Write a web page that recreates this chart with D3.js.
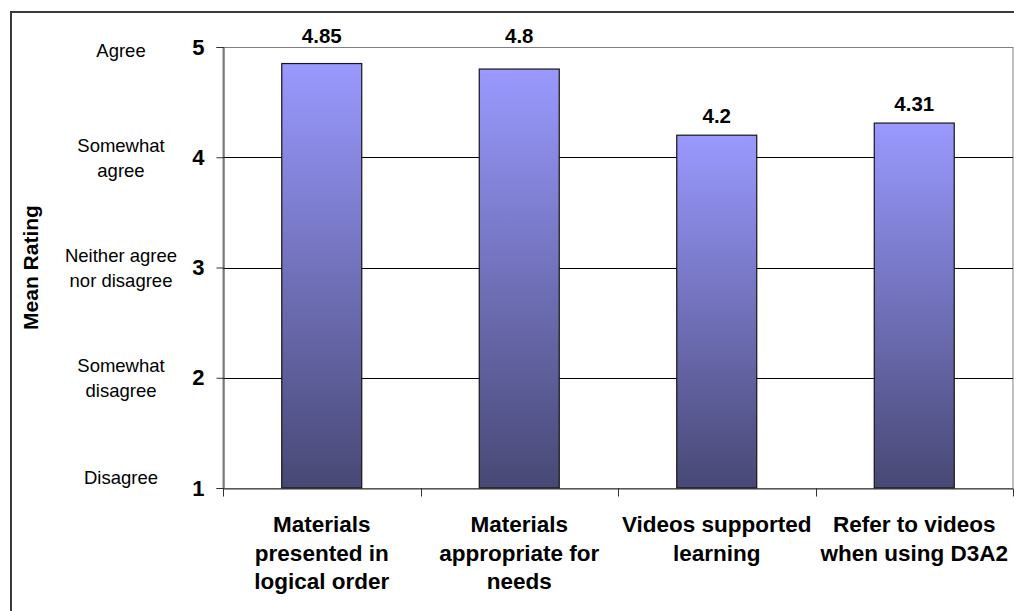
<!DOCTYPE html>
<html><head><meta charset="utf-8">
<script src="https://cdn.jsdelivr.net/npm/d3@7"></script>
<style>
body{margin:0;background:#fff}
svg{display:block;font-family:Arial,"Liberation Sans",sans-serif}
</style>
</head><body>
<svg id="c" width="1014" height="611"></svg>
<script>
const categories = ["Materials\npresented in\nlogical order", "Materials\nappropriate for\nneeds", "Videos supported\nlearning", "Refer to videos\nwhen using D3A2"];
const meanRatings = [4.85, 4.8, 4.2, 4.31];
const yTicks = [1, 2, 3, 4, 5];
const yTickNames = ["Disagree", "Somewhat\ndisagree", "Neither agree\nnor disagree", "Somewhat\nagree", "Agree"];
const yTitle = "Mean Rating";

const svg = d3.select("#c");
svg.append("rect").attr("width", 1014).attr("height", 611).attr("fill", "#fff");

const plot = {left: 223, right: 1013, top: 47, bottom: 488};
const x = d3.scaleBand().domain(categories).range([plot.left, plot.right]).padding(0);
const y = d3.scaleLinear().domain([1, 5]).range([plot.bottom, plot.top]);
const barW = x.bandwidth() * 0.405;

const defs = svg.append("defs");
const grad = defs.append("linearGradient").attr("id", "barGrad")
  .attr("x1", 0).attr("y1", 0).attr("x2", 0).attr("y2", 1);
grad.append("stop").attr("offset", "0%").attr("stop-color", "#9999FF");
grad.append("stop").attr("offset", "100%").attr("stop-color", "#484875");

// outer chart border
svg.append("rect").attr("x", 11).attr("y", 12).attr("width", 1040).attr("height", 700)
  .attr("fill", "none").attr("stroke", "#3a3a3a").attr("stroke-width", 2);

// plot area border
svg.append("rect").attr("x", plot.left).attr("y", plot.top + 0.5)
  .attr("width", plot.right - plot.left).attr("height", plot.bottom - plot.top)
  .attr("fill", "none").attr("stroke", "#808080").attr("stroke-width", 1);

// gridlines
svg.append("g").selectAll("line").data(yTicks.filter(t => t > 1 && t < 5)).join("line")
  .attr("x1", plot.left).attr("x2", plot.right)
  .attr("y1", d => Math.round(y(d)) + 0.5).attr("y2", d => Math.round(y(d)) + 0.5)
  .attr("stroke", "#000").attr("stroke-width", 1);

// bars
svg.append("g").selectAll("rect").data(meanRatings).join("rect")
  .attr("x", (d, i) => x(categories[i]) + x.bandwidth() / 2 - barW / 2)
  .attr("y", d => y(d))
  .attr("width", barW)
  .attr("height", d => y(1) - y(d))
  .attr("fill", "url(#barGrad)")
  .attr("stroke", "#151515").attr("stroke-width", 1.2);

// value labels
svg.append("g").selectAll("text").data(meanRatings).join("text")
  .attr("x", (d, i) => x(categories[i]) + x.bandwidth() / 2)
  .attr("y", d => { let ly = y(d) - 12; if (ly - 16 < plot.top) ly = plot.top - 4.5; return ly; })
  .attr("text-anchor", "middle").attr("font-weight", "bold").attr("font-size", 20.5)
  .attr("fill", "#000")
  .text(d => d3.format("")(d));

// y axis
const yAxis = svg.append("g").attr("transform", `translate(${plot.left + 0.5},0)`)
  .call(d3.axisLeft(y).tickValues(yTicks).tickFormat(d3.format("d")).tickSize(7).tickPadding(12));
yAxis.select(".domain").attr("stroke", "#333");
yAxis.selectAll(".tick line").attr("stroke", "#333");
yAxis.selectAll(".tick text").attr("font-size", 22).attr("font-weight", "bold")
  .attr("fill", "#000").attr("font-family", "Arial, 'Liberation Sans', sans-serif");

// x axis
const xAxis = svg.append("g").attr("transform", `translate(0,${plot.bottom + 0.5})`)
  .call(d3.axisBottom(x).tickSizeInner(0).tickSizeOuter(8).tickFormat(""));
xAxis.select(".domain").attr("stroke", "#333");
xAxis.selectAll(".tick").remove();
svg.append("g").selectAll("line").data(categories.slice(1)).join("line")
  .attr("x1", d => Math.round(x(d)) + 0.5).attr("x2", d => Math.round(x(d)) + 0.5)
  .attr("y1", plot.bottom).attr("y2", plot.bottom + 8.5)
  .attr("stroke", "#333");

// category labels
const catG = svg.append("g").selectAll("text").data(categories).join("text")
  .attr("text-anchor", "middle").attr("font-weight", "bold").attr("font-size", 22.5).attr("fill", "#000");
catG.each(function(d) {
  const cx = x(d) + x.bandwidth() / 2;
  d3.select(this).selectAll("tspan").data(d.split("\n")).join("tspan")
    .attr("x", cx).attr("y", (l, j) => 532 + j * 28.5).text(l => l);
});

// y tick names
const nameG = svg.append("g").selectAll("text").data(yTicks).join("text")
  .attr("text-anchor", "middle").attr("font-size", 18.5).attr("fill", "#000");
nameG.each(function(t, i) {
  const lines = yTickNames[i].split("\n");
  const yc = y(t);
  let base;
  if (lines.length === 1) base = Math.min(Math.max(yc + 6, plot.top + 10), plot.bottom - 4);
  else base = yc - 5.5;
  d3.select(this).selectAll("tspan").data(lines).join("tspan")
    .attr("x", 121).attr("y", (l, j) => base + j * 25).text(l => l);
});

// y title
svg.append("text").attr("transform", `translate(38,${(plot.top + plot.bottom) / 2}) rotate(-90)`)
  .attr("text-anchor", "middle").attr("font-weight", "bold").attr("font-size", 21).attr("fill", "#000")
  .text(yTitle);
</script>
</body></html>
